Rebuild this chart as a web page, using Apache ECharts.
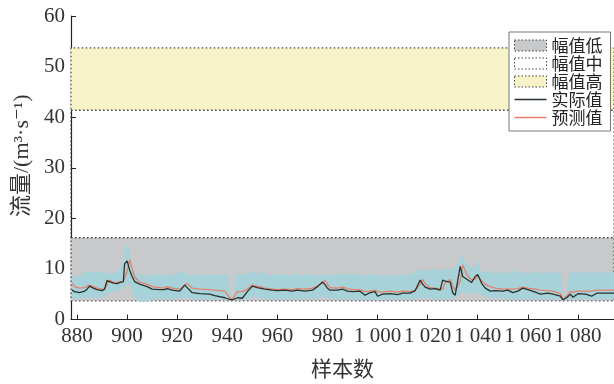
<!DOCTYPE html>
<html>
<head>
<meta charset="utf-8">
<script src="https://cdn.jsdelivr.net/npm/echarts@6/dist/echarts.min.js"></script>
<style>
  html, body { margin: 0; padding: 0; background: #fff; }
  #chart { width: 614px; height: 384px; }
</style>
</head>
<body>
<div id="chart"></div>
<script>
// 样本序号
const sampleX = [878, 879, 881, 883, 884, 885, 886.5, 888, 890, 891, 892, 893, 894.5, 896, 897, 898.5, 899, 900, 901, 902,
  903, 905, 908, 910, 913, 915, 916, 918, 921, 923, 924, 926, 929, 933, 935, 939, 941, 942, 944, 946,
  948, 950, 952, 955, 958, 960, 963, 966, 968, 971, 974, 976, 978, 979, 980, 981, 984, 986, 988, 990,
  993, 995, 997, 999, 1000, 1002, 1005, 1008, 1010, 1013, 1015, 1017, 1018, 1019, 1021, 1023, 1025, 1026, 1027, 1029,
  1030, 1031, 1033, 1034, 1035.5, 1037.5, 1039, 1040, 1041.5, 1043, 1045, 1047, 1050, 1052, 1054, 1056, 1058, 1060, 1063, 1065,
  1068, 1070, 1073, 1074, 1075.5, 1077, 1078, 1080, 1083, 1085.5, 1087.5, 1091, 1094.4];
// 实际值
const actual = [5.8, 5.5, 5.3, 5.6, 6.0, 6.6, 6.2, 5.9, 5.7, 6.0, 7.7, 7.5, 7.2, 7.1, 7.3, 7.5, 11.0, 11.6, 9.8, 8.5,
  7.5, 7.0, 6.5, 6.0, 5.9, 5.9, 6.1, 5.8, 5.6, 6.8, 6.3, 5.3, 5.1, 5.0, 4.7, 4.3, 4.0, 3.9, 4.3, 4.2,
  5.5, 6.6, 6.3, 6.0, 5.8, 5.7, 5.8, 5.6, 5.8, 5.6, 5.8, 6.5, 7.4, 6.9, 6.2, 5.8, 5.8, 6.0, 5.6, 5.5,
  5.6, 4.8, 5.3, 5.5, 4.6, 5.0, 5.1, 4.9, 5.2, 5.2, 5.7, 7.8, 7.0, 6.4, 6.0, 6.1, 5.8, 7.8, 7.6, 7.4,
  5.3, 4.8, 10.5, 8.5, 8.0, 7.3, 8.5, 8.9, 7.2, 6.2, 5.6, 5.7, 5.6, 5.8, 5.3, 5.6, 6.2, 5.9, 5.4, 5.0,
  5.2, 5.0, 4.6, 3.9, 4.3, 5.0, 4.4, 5.1, 5.0, 4.6, 5.2, 5.2, 5.2];
// 预测值
const predicted = [7.2, 6.5, 6.2, 6.3, 6.5, 6.8, 6.5, 6.2, 6.0, 6.0, 7.0, 7.8, 7.4, 7.2, 7.5, 7.5, 7.8, 9.5, 11.8, 10.1,
  8.4, 7.4, 7.0, 6.5, 6.3, 6.2, 6.5, 6.2, 6.0, 6.8, 7.1, 6.2, 6.0, 5.9, 5.8, 5.6, 4.3, 4.0, 5.5, 5.5,
  6.0, 6.8, 6.6, 6.2, 6.0, 5.9, 6.0, 5.9, 6.1, 6.0, 6.2, 6.6, 7.2, 7.7, 7.0, 6.3, 6.2, 6.4, 6.1, 5.9,
  5.9, 5.5, 5.6, 5.8, 5.5, 5.4, 5.6, 5.4, 5.6, 5.5, 5.7, 7.0, 7.9, 7.1, 6.3, 6.2, 6.0, 6.0, 7.2, 7.9,
  6.6, 5.8, 7.5, 10.8, 9.0, 7.8, 8.0, 8.6, 7.7, 7.0, 6.5, 6.2, 6.0, 6.0, 6.0, 6.1, 6.4, 6.2, 6.0, 5.8,
  5.7, 5.6, 5.1, 4.0, 4.6, 5.5, 5.4, 5.6, 5.6, 5.6, 5.8, 5.8, 5.8];
// 预测区间
const bandX = [878, 881, 883, 885, 887, 889, 891, 892, 894, 896, 898, 899, 900, 901, 902, 903, 905, 907, 909, 911,
  913, 915, 917, 919, 921, 923, 925, 927, 929, 931, 935, 939, 940.5, 941.5, 942.5, 943.5, 947, 949, 951, 953,
  955, 957, 959, 961, 963, 965, 967, 970, 973, 976, 978, 980, 983, 986, 989, 992, 995, 998, 1001, 1004,
  1007, 1010, 1013, 1016, 1018, 1020, 1023, 1026, 1028, 1030, 1032, 1034, 1035, 1037, 1039, 1040, 1041.5, 1043, 1045, 1048,
  1050, 1052, 1054, 1056, 1058, 1060, 1063, 1066, 1069, 1072, 1073.5, 1074, 1075.5, 1076.5, 1079, 1082, 1085, 1088, 1091, 1094.4];
const bandLow = [4.0, 4.2, 4.3, 4.3, 4.4, 4.2, 4.6, 5.0, 5.5, 5.6, 5.8, 6.5, 7.0, 7.0, 5.5, 4.5, 3.5, 3.5, 3.6, 4.0,
  4.0, 4.1, 4.0, 4.0, 4.1, 4.4, 4.2, 4.0, 4.0, 4.0, 4.0, 4.0, 4.0, 3.8, 3.8, 4.0, 4.0, 4.2, 4.5, 4.3,
  4.0, 4.0, 4.0, 4.0, 4.0, 4.1, 4.0, 4.0, 4.0, 4.1, 4.5, 4.2, 4.1, 4.0, 4.0, 4.0, 3.8, 4.0, 3.8, 4.0,
  3.9, 4.0, 4.0, 4.2, 4.3, 4.3, 4.0, 4.0, 4.2, 4.0, 4.5, 5.5, 5.5, 5.0, 5.5, 5.0, 5.0, 4.5, 4.3, 4.2,
  4.2, 4.0, 4.0, 4.0, 4.0, 4.0, 4.0, 4.0, 4.0, 4.0, 3.8, 3.8, 3.8, 4.0, 4.0, 4.0, 4.0, 4.0, 4.0, 4.0];
const bandHigh = [8.6, 8.5, 9.2, 9.6, 9.4, 9.6, 9.2, 9.3, 9.0, 9.4, 10.5, 13.5, 15.2, 14.0, 10.5, 9.2, 9.0, 8.5, 9.0, 8.6,
  9.2, 8.5, 9.3, 8.7, 9.4, 9.4, 8.6, 9.0, 8.8, 8.8, 8.9, 8.9, 8.9, 4.4, 4.4, 8.9, 9.0, 9.3, 9.4, 9.0,
  9.4, 8.6, 9.2, 8.7, 9.1, 8.6, 9.2, 8.8, 9.0, 8.6, 8.8, 9.0, 8.8, 9.1, 8.9, 9.1, 8.7, 9.0, 8.6, 8.9,
  8.6, 9.0, 8.8, 9.6, 10.0, 9.7, 10.0, 9.6, 10.2, 9.8, 11.0, 13.0, 11.5, 10.2, 10.5, 11.8, 9.5, 9.3, 9.5, 9.0,
  9.6, 9.0, 9.8, 9.3, 9.5, 9.0, 9.4, 9.2, 9.5, 9.2, 9.0, 4.4, 4.6, 9.2, 9.6, 9.2, 9.5, 9.2, 9.5, 9.3];
// 幅值分区边界
const levelNames = ['幅值低', '幅值中', '幅值高'];
const levelEdges = [3.66, 16.17, 41.4, 53.7];
const levelColors = ['#c8c9cb', 'rgba(255,255,255,0)', '#f8f2c9'];
const xTicks = [880, 900, 920, 940, 960, 980, 1000, 1020, 1040, 1060, 1080];

const serif = '"Liberation Serif", "DejaVu Serif", "Noto Sans CJK SC", serif';
const lineIcon = 'path://M0,0 H32 V1.4 H0 Z';
const dotted = { borderColor: '#444', borderWidth: 1, borderType: [1.5, 2] };
const chart = echarts.init(document.getElementById('chart'), null, { renderer: 'canvas' });

const levelSeries = levelNames.map((name, i) => ({
  name: name,
  type: 'line',
  data: [],
  z: 1,
  silent: true,
  markArea: {
    silent: true,
    itemStyle: {
      color: levelColors[i],
      borderColor: '#444',
      borderWidth: 1.2,
      borderType: [1.5, 2.5]
    },
    data: [[{ yAxis: levelEdges[i] }, { yAxis: levelEdges[i + 1] }]]
  }
}));

const option = {
  animation: false,
  grid: { left: 71, right: 0, top: 16, bottom: 64.5 },
  legend: {
    orient: 'vertical',
    left: 509,
    top: 32,
    padding: [5, 8, 5, 5],
    itemWidth: 32,
    itemHeight: 11,
    itemGap: 1,
    backgroundColor: '#fff',
    borderColor: '#777',
    borderWidth: 1,
    textStyle: { fontFamily: '"Noto Sans CJK SC", serif', fontSize: 17, lineHeight: 15, color: '#222' },
    data: [
      { name: '幅值低', icon: 'rect', itemStyle: Object.assign({ color: levelColors[0] }, dotted) },
      { name: '幅值中', icon: 'rect', itemStyle: Object.assign({ color: '#fff' }, dotted) },
      { name: '幅值高', icon: 'rect', itemStyle: Object.assign({ color: levelColors[2] }, dotted) },
      { name: '实际值', icon: lineIcon, itemStyle: { color: '#26332f', borderWidth: 0 } },
      { name: '预测值', icon: lineIcon, itemStyle: { color: '#e8806a', borderWidth: 0 } }
    ]
  },
  xAxis: {
    type: 'value',
    min: 877.6,
    max: 1094.4,
    name: '样本数',
    nameLocation: 'middle',
    nameGap: 38,
    nameTextStyle: { fontFamily: '"Noto Sans CJK SC", serif', fontSize: 21, color: '#333' },
    axisLine: { lineStyle: { color: '#222', width: 1.2 } },
    axisTick: { inside: true, length: 5, customValues: xTicks, lineStyle: { color: '#222' } },
    axisLabel: {
      customValues: xTicks,
      margin: 6,
      fontFamily: serif,
      fontSize: 21,
      color: '#333',
      formatter: v => v >= 1000 ? '1 ' + String(v).slice(1) : String(v)
    },
    splitLine: { show: false }
  },
  yAxis: {
    type: 'value',
    min: 0,
    max: 60,
    interval: 10,
    name: '流量/(m³·s⁻¹)',
    nameLocation: 'middle',
    nameGap: 35,
    nameTextStyle: { fontFamily: serif, fontSize: 22, color: '#333', padding: [0, 0, 0, 24] },
    axisLine: { show: true, lineStyle: { color: '#222', width: 1.2 } },
    axisTick: { show: true, inside: true, length: 5, lineStyle: { color: '#222' } },
    axisLabel: { margin: 6, fontFamily: serif, fontSize: 21, color: '#333' },
    splitLine: { show: false }
  },
  series: [
    ...levelSeries,
    {
      type: 'custom',
      name: '预测区间',
      z: 2,
      silent: true,
      data: bandX.map((x, i) => [x, bandLow[i], bandHigh[i]]),
      encode: { x: 0, y: [1, 2] },
      renderItem: function (params, api) {
        if (params.dataIndex !== 0) return null;
        const top = bandX.map((x, i) => api.coord([x, bandHigh[i]]));
        const bottom = bandX.map((x, i) => api.coord([x, bandLow[i]])).reverse();
        return {
          type: 'polygon',
          shape: { points: top.concat(bottom) },
          style: { fill: '#a7d2d9', stroke: null }
        };
      }
    },
    {
      name: '实际值',
      type: 'line',
      z: 4,
      symbol: 'none',
      data: sampleX.map((x, i) => [x, actual[i]]),
      lineStyle: { color: '#26332f', width: 1.3 },
      itemStyle: { color: '#26332f' }
    },
    {
      name: '预测值',
      type: 'line',
      z: 3,
      symbol: 'none',
      data: sampleX.map((x, i) => [x, predicted[i]]),
      lineStyle: { color: '#e8806a', width: 1.3 },
      itemStyle: { color: '#e8806a' }
    }
  ]
};
chart.setOption(option);
</script>
</body>
</html>
